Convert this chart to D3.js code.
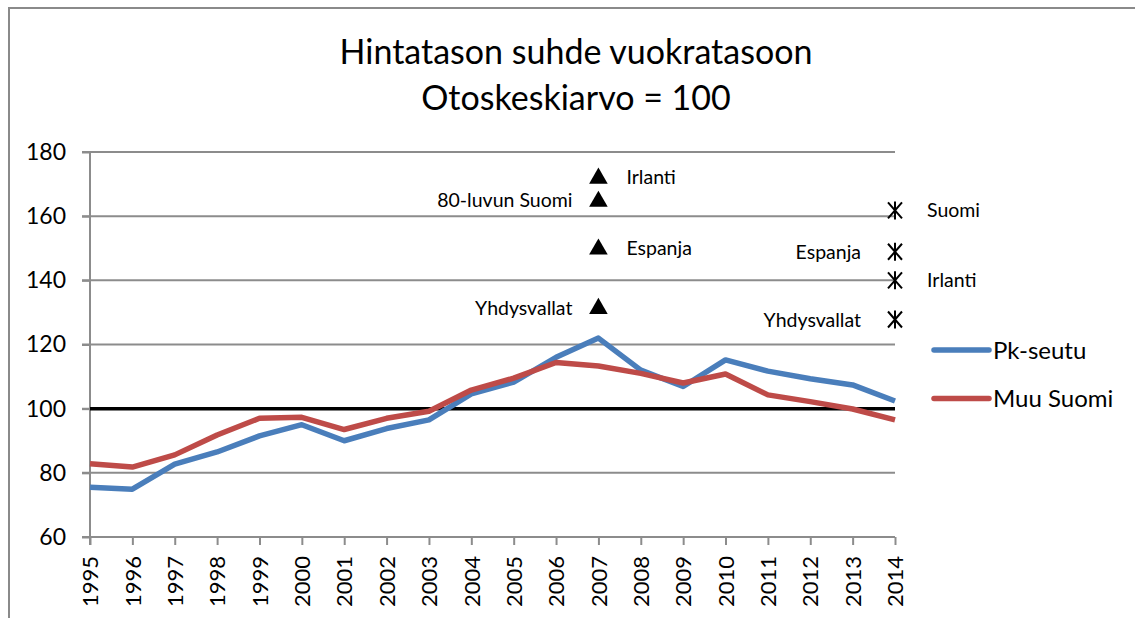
<!DOCTYPE html>
<html>
<head>
<meta charset="utf-8">
<script src="https://cdn.jsdelivr.net/npm/d3@7"></script>
<style>
  body { margin: 0; background: #fff; }
  svg { display: block; font-family: Lato, "Open Sans", sans-serif; }
</style>
</head>
<body>
<svg id="chart" width="1135" height="618"></svg>
<script>
const years = d3.range(1995, 2015);
const pkSeutu = [75.5, 74.9, 82.7, 86.5, 91.5, 95.0, 90.0, 93.8, 96.5, 104.6, 108.3, 116.0, 122.0, 112.0, 106.9, 115.2, 111.7, 109.3, 107.4, 102.4];
const muuSuomi = [82.8, 81.8, 85.6, 91.8, 97.0, 97.3, 93.5, 97.0, 99.2, 105.8, 109.5, 114.4, 113.3, 111.0, 108.0, 110.8, 104.3, 102.2, 99.9, 96.5];
const yTicks = [60, 80, 100, 120, 140, 160, 180];

// reference countries, 2007 peak (triangles) and 2014 (stars)
const peakNames = ["Irlanti", "80-luvun Suomi", "Espanja", "Yhdysvallat"];
const peakValues = [172.1, 164.9, 150.0, 131.5];
const peakSide = ["right", "left", "right", "left"];
const nowNames = ["Suomi", "Espanja", "Irlanti", "Yhdysvallat"];
const nowValues = [161.8, 148.9, 140.0, 127.8];
const nowSide = ["right", "left", "right", "left"];

const seriesNames = ["Pk-seutu", "Muu Suomi"];
const seriesColors = ["#4a7ebb", "#be4b48"];

const svg = d3.select("#chart");
const margin = {left: 90, right: 240, top: 152, bottom: 81};
const W = 1135, H = 618;

const x = d3.scaleLinear().domain([1995, 2014]).range([margin.left, W - margin.right]);
const y = d3.scaleLinear().domain([60, 180]).range([H - margin.bottom, margin.top]);

// outer frame (only left and top visible)
svg.append("path")
  .attr("d", `M9,${H} V8 H${W}`)
  .attr("fill", "none")
  .attr("stroke", "#8a8a8a")
  .attr("stroke-width", 2);

// title
svg.append("text")
  .attr("x", 576).attr("y", 64)
  .attr("text-anchor", "middle")
  .attr("font-size", "34px")
  .text("Hintatason suhde vuokratasoon");
svg.append("text")
  .attr("x", 576).attr("y", 110)
  .attr("text-anchor", "middle")
  .attr("font-size", "34px")
  .text("Otoskeskiarvo = 100");

// gridlines
const gridColor = "#8c8c8c";
svg.append("g")
  .selectAll("line")
  .data(yTicks)
  .join("line")
  .attr("x1", margin.left - 8).attr("x2", x(2014))
  .attr("y1", d => y(d)).attr("y2", d => y(d))
  .attr("stroke", gridColor)
  .attr("stroke-width", 2);

// y axis
const yAxis = svg.append("g")
  .attr("transform", `translate(${margin.left},0)`)
  .call(d3.axisLeft(y).tickValues(yTicks).tickSize(8).tickPadding(16));
yAxis.select(".domain").remove();
yAxis.selectAll(".tick line").attr("stroke", gridColor).attr("stroke-width", 2);
yAxis.selectAll("text")
  .attr("font-family", "Lato, sans-serif")
  .attr("font-size", "23px")
  .attr("fill", "#000");
svg.append("line")
  .attr("x1", margin.left).attr("x2", margin.left)
  .attr("y1", y(180)).attr("y2", y(60) + 8)
  .attr("stroke", gridColor).attr("stroke-width", 2);

// x axis
const xAxis = svg.append("g")
  .attr("transform", `translate(0,${y(60)})`)
  .call(d3.axisBottom(x).tickValues(years).tickFormat(d3.format("d")).tickSize(8));
xAxis.select(".domain").attr("stroke", gridColor).attr("stroke-width", 2).attr("d", `M${x(1995)},0H${x(2014)}`);
xAxis.selectAll(".tick line").attr("stroke", gridColor).attr("stroke-width", 2);
xAxis.selectAll(".tick text")
  .attr("font-family", "Lato, sans-serif")
  .attr("font-size", "22px")
  .attr("fill", "#000")
  .attr("text-anchor", "end")
  .attr("dy", "0.35em")
  .attr("x", 0).attr("y", 0)
  .attr("transform", "translate(0,19) rotate(-90)");

// reference line at 100
svg.append("line")
  .attr("x1", x(1995)).attr("x2", x(2014))
  .attr("y1", y(100)).attr("y2", y(100))
  .attr("stroke", "#000").attr("stroke-width", 3.5);

// series lines
const line = d3.line().x((d, i) => x(years[i])).y(d => y(d));
[pkSeutu, muuSuomi].forEach((vals, k) => {
  svg.append("path")
    .datum(vals)
    .attr("d", line)
    .attr("fill", "none")
    .attr("stroke", seriesColors[k])
    .attr("stroke-width", 5.5)
    .attr("stroke-linejoin", "round");
});

// triangles at 2007
const tri = d3.symbol().type(d3.symbolTriangle).size(150);
const peakG = svg.append("g")
  .selectAll("g")
  .data(peakValues)
  .join("g")
  .attr("transform", d => `translate(${x(2007)},${y(d)})`);
peakG.append("path").attr("d", tri).attr("fill", "#000").attr("transform", "translate(0,1)");
peakG.append("text")
  .attr("x", (d, i) => peakSide[i] === "right" ? 28 : -26)
  .attr("text-anchor", (d, i) => peakSide[i] === "right" ? "start" : "end")
  .attr("dy", "0.36em")
  .attr("font-size", "19.5px")
  .text((d, i) => peakNames[i]);

// stars at 2014
const nowG = svg.append("g")
  .selectAll("g")
  .data(nowValues)
  .join("g")
  .attr("transform", d => `translate(${x(2014)},${y(d)})`);
nowG.append("path")
  .attr("d", "M-7,-8L7,8M7,-8L-7,8M0,-9V9")
  .attr("stroke", "#000").attr("stroke-width", 2).attr("fill", "none");
nowG.append("text")
  .attr("x", (d, i) => nowSide[i] === "right" ? 32 : -34)
  .attr("text-anchor", (d, i) => nowSide[i] === "right" ? "start" : "end")
  .attr("dy", "0.36em")
  .attr("font-size", "19.5px")
  .text((d, i) => nowNames[i]);

// legend
const legend = svg.append("g")
  .selectAll("g")
  .data(seriesNames)
  .join("g")
  .attr("transform", (d, i) => `translate(934,${350 + i * 48.5})`);
legend.append("line")
  .attr("x1", 0).attr("x2", 55)
  .attr("stroke", (d, i) => seriesColors[i])
  .attr("stroke-width", 5.5)
  .attr("stroke-linecap", "round");
legend.append("text")
  .attr("x", 59)
  .attr("dy", "0.36em")
  .attr("font-size", "24px")
  .text(d => d);
</script>
</body>
</html>
